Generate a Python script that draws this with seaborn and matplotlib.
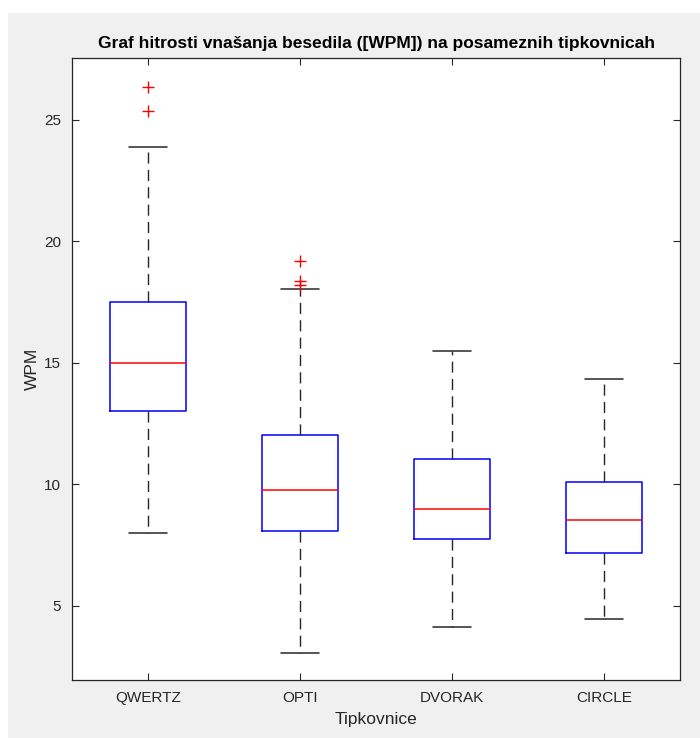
import matplotlib
matplotlib.use("Agg")
import matplotlib.pyplot as plt
from matplotlib.patches import Rectangle
import seaborn as sns

# Box statistics (WPM per keyboard)
keyboards = ["QWERTZ", "OPTI", "DVORAK", "CIRCLE"]
whisker_low = [8.02, 3.08, 4.12, 4.45]
q1 = [13.02, 8.07, 7.74, 7.19]
median = [15.01, 9.79, 8.98, 8.54]
q3 = [17.52, 12.05, 11.06, 10.09]
whisker_high = [23.9, 18.06, 15.51, 14.33]
outliers = [[25.37, 26.37], [18.21, 18.39, 19.21], [], []]

sns.set_style("ticks")
plt.rcParams["font.family"] = ["Liberation Sans", "DejaVu Sans"]

fig = plt.figure(figsize=(7, 7.38), dpi=100, facecolor="white")
fig.patches.append(Rectangle((8 / 700, 0), 1, 1 - 13 / 738, transform=fig.transFigure,
                             facecolor="#f0f0f0", edgecolor="none", zorder=-10))
ax = fig.add_axes([72 / 700, 1 - 680 / 738, 608 / 700, 622 / 738])

stats = []
for i, name in enumerate(keyboards):
    stats.append({
        "label": name,
        "whislo": whisker_low[i],
        "q1": q1[i],
        "med": median[i],
        "q3": q3[i],
        "whishi": whisker_high[i],
        "fliers": outliers[i],
    })

ax.bxp(
    stats,
    positions=range(1, len(keyboards) + 1),
    widths=0.5,
    showfliers=True,
    boxprops=dict(color="#0000ff", linewidth=1.1),
    medianprops=dict(color="#ff0000", linewidth=1.1),
    whiskerprops=dict(color="#262626", linewidth=1.0, linestyle=(0, (8, 4.5))),
    capprops=dict(color="#262626", linewidth=1.1),
    capwidths=0.25,
    flierprops=dict(marker="+", markeredgecolor="#ff0000", markersize=8,
                    markeredgewidth=1.0, linestyle="none"),
)

ax.set_xlim(0.5, 4.5)
ax.set_ylim(1.95, 27.55)
ax.set_yticks([5, 10, 15, 20, 25])
ax.set_xticks(range(1, len(keyboards) + 1))
ax.set_xticklabels(keyboards)
ax.tick_params(direction="in", length=5, width=0.8, colors="#262626",
               labelsize=11, top=True, right=True, pad=8)
for side in ax.spines.values():
    side.set_visible(True)
    side.set_color("#262626")
    side.set_linewidth(0.9)
ax.set_facecolor("white")

ax.set_title("Graf hitrosti vnašanja besedila ([WPM]) na posameznih tipkovnicah",
             fontsize=12.5, fontweight="bold", color="black", pad=7)
ax.set_xlabel("Tipkovnice", fontsize=12.5, color="#262626", labelpad=5)
ax.set_ylabel("WPM", fontsize=12.5, color="#262626", labelpad=3)

fig.savefig("out.png", dpi=100, facecolor=fig.get_facecolor())
